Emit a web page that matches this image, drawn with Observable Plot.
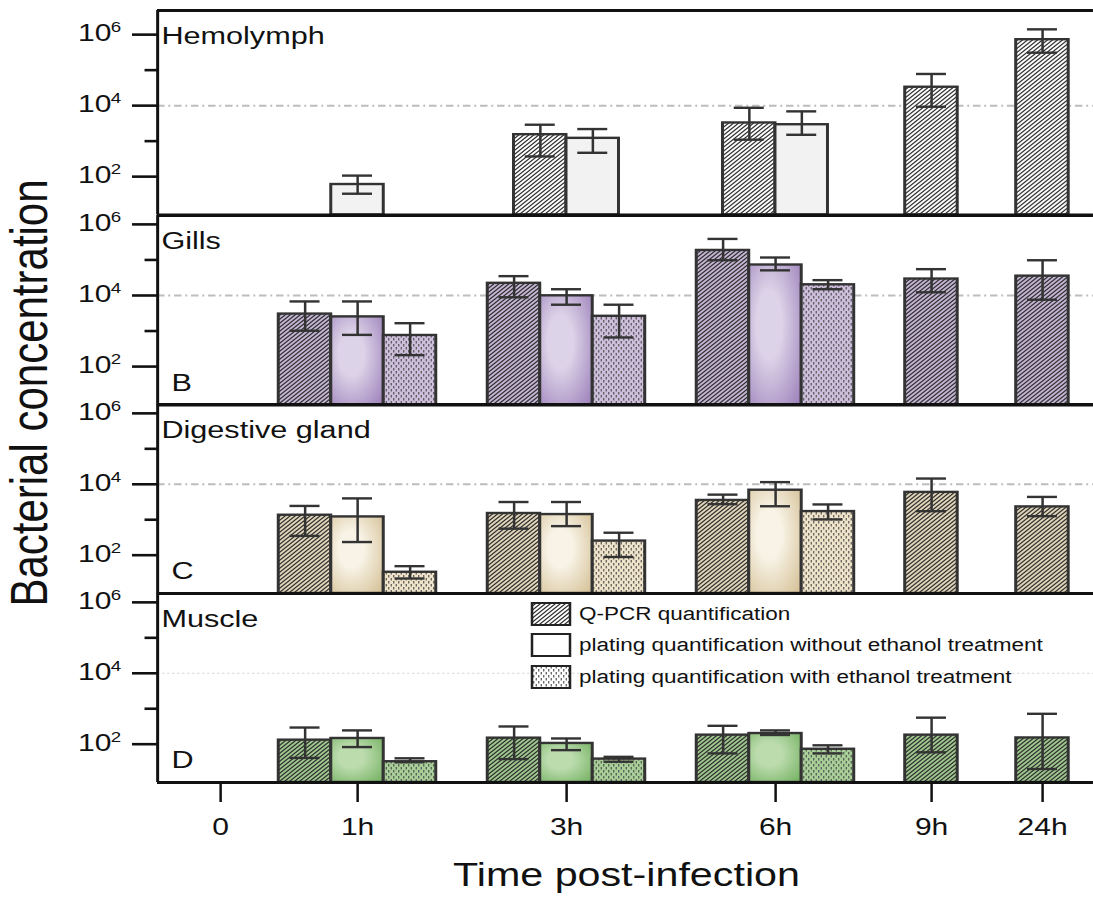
<!DOCTYPE html>
<html><head><meta charset="utf-8">
<script src="https://cdn.jsdelivr.net/npm/d3@7"></script>
<script src="https://cdn.jsdelivr.net/npm/@observablehq/plot@0.6"></script>
<style>
body{margin:0;background:#fff;}
#wrap{position:relative;width:874.4px;height:900px;transform:scaleX(1.25);transform-origin:0 0;font-family:"Liberation Sans",Arial,sans-serif;color:#111;}
#wrap svg{position:absolute;left:0;}
</style></head><body><div id="wrap"></div>
<script>
// ---------------- DATA ----------------
const times = ["0","1h","3h","6h","9h","24h"];
const hours = [0,1,3,6,9,24];
const tissues = ["Hemolymph","Gills","Digestive gland","Muscle"];
const panelLetters = ["","B","C","D"];
const seriesNames = ["Q-PCR quantification","plating quantification without ethanol treatment","plating quantification with ethanol treatment"];
const majorTicks = [1e2,1e4,1e6];
const minorTicks = [1e3,1e5];
const threshold = 1e4;

// Hemolymph
const hemoQpcr   = [null,null,1520,3250,33000,720000];
const hemoQpcrLo = [null,null,370,1100,9300,310000];
const hemoQpcrHi = [null,null,2900,8700,78000,1410000];
const hemoWo     = [null,60,1200,2900,null,null];
const hemoWoLo   = [null,33,470,1510,null,null];
const hemoWoHi   = [null,107,2190,6900,null,null];
const hemoEth    = [null,null,null,null,null,null];
const hemoEthLo  = [null,null,null,null,null,null];
const hemoEthHi  = [null,null,null,null,null,null];
// Gills
const gillQpcr   = [null,3000,22000,185000,29000,35000];
const gillQpcrLo = [null,1020,8900,98000,12300,7600];
const gillQpcrHi = [null,6800,35000,390000,55000,98000];
const gillWo     = [null,2500,9800,72000,null,null];
const gillWoLo   = [null,780,5500,51000,null,null];
const gillWoHi   = [null,6800,15000,117000,null,null];
const gillEth    = [null,750,2600,20000,null,null];
const gillEthLo  = [null,210,660,15000,null,null];
const gillEthHi  = [null,1660,5500,27000,null,null];
// Digestive gland
const digQpcr    = [null,1340,1500,3500,5900,2300];
const digQpcrLo  = [null,350,560,2750,1740,1260];
const digQpcrHi  = [null,2450,3160,5100,14500,4400];
const digWo      = [null,1200,1400,6800,null,null];
const digWoLo    = [null,235,660,2400,null,null];
const digWoHi    = [null,4000,3160,11500,null,null];
const digEth     = [null,33,250,1700,null,null];
const digEthLo   = [null,22,89,1020,null,null];
const digEthHi   = [null,49,430,2700,null,null];
// Muscle
const musQpcr    = [null,130,148,180,180,150];
const musQpcrLo  = [null,41,38,55,59,20];
const musQpcrHi  = [null,295,316,330,560,720];
const musWo      = [null,145,105,200,null,null];
const musWoLo    = [null,83,68,182,null,null];
const musWoHi    = [null,245,145,245,null,null];
const musEth     = [null,32,38,72,null,null];
const musEthLo   = [null,31,32,55,null,null];
const musEthHi   = [null,40,44,93,null,null];

// ---------------- LAYOUT ----------------
const S = 1.25;                 // horizontal stretch of the reference figure
const W = 1093 / S;
const axisLeft = 157 / S;
const tickPx = [220,357,566,775,931,1042].map(v => v / S);
const xOpts = {type:"linear", domain:[-1, ...hours, 28], range:[axisLeft, ...tickPx, W]};
const xs = Plot.scale({x: xOpts});
const barW = 52.5 / S, capHalf = 15 / S;
const font = "'Liberation Sans', Arial, sans-serif";

const panels = [
  {id:"hemo", top:10,    h:204.5, ymin:10**0.92, ymax:10**6.68, series:[[hemoQpcr,hemoQpcrLo,hemoQpcrHi],[hemoWo,hemoWoLo,hemoWoHi],[hemoEth,hemoEthLo,hemoEthHi]],
   q:"#ffffff", wl:"#f2f2f2", wd:"#f2f2f2", e:"#ffffff", ref:"dashdot"},
  {id:"gill", top:214.5, h:189.5, ymin:10**0.92, ymax:10**6.25, series:[[gillQpcr,gillQpcrLo,gillQpcrHi],[gillWo,gillWoLo,gillWoHi],[gillEth,gillEthLo,gillEthHi]],
   q:"#c4b5d4", wl:"#ddd3e8", wd:"#9a7db8", e:"#cdbedc", ref:"dashdot"},
  {id:"dig",  top:404,   h:189,   ymin:10**0.92, ymax:10**6.25, series:[[digQpcr,digQpcrLo,digQpcrHi],[digWo,digWoLo,digWoHi],[digEth,digEthLo,digEthHi]],
   q:"#e2d6bb", wl:"#f8f3e6", wd:"#d2bd91", e:"#efe4c9", ref:"dashdot"},
  {id:"mus",  top:593,   h:189,   ymin:10**0.92, ymax:10**6.25, series:[[musQpcr,musQpcrLo,musQpcrHi],[musWo,musWoLo,musWoHi],[musEth,musEthLo,musEthHi]],
   q:"#a0c78f", wl:"#bcdcae", wd:"#70ae5d", e:"#a9cf98", ref:"dotted"}
];
const keys = ["q","w","e"];

// ---------------- DEFS (patterns) ----------------
const wrap = document.getElementById("wrap");
const defsSvg = d3.create("svg").attr("width",0).attr("height",0).style("position","absolute");
const defs = defsSvg.append("defs");
function hatch(id,bg){
  const p = defs.append("pattern").attr("id",id).attr("patternUnits","userSpaceOnUse").attr("width",4).attr("height",4);
  p.append("rect").attr("width",4).attr("height",4).attr("fill",bg);
  p.append("path").attr("d","M-1,1L1,-1M0,4L4,0M3,5L5,3").attr("stroke","#2a2a2a").attr("stroke-width",1.1);
}
function dots(id,bg){
  const p = defs.append("pattern").attr("id",id).attr("patternUnits","userSpaceOnUse").attr("width",4).attr("height",6);
  p.append("rect").attr("width",4).attr("height",6).attr("fill",bg);
  p.append("path").attr("d","M1,0V2.4M3,3V5.4").attr("stroke","#4a4a4a").attr("stroke-width",0.9);
}
function grad(id,light,dark){
  const g = defs.append("radialGradient").attr("id",id).attr("cx",0.42).attr("cy",0.45).attr("r",0.8).attr("fx",0.38).attr("fy",0.42);
  g.append("stop").attr("offset",0).attr("stop-color",light);
  g.append("stop").attr("offset",0.3).attr("stop-color",light);
  g.append("stop").attr("offset",1).attr("stop-color",dark);
}
panels.forEach(p => { hatch(p.id+"-q",p.q); grad(p.id+"-w",p.wl,p.wd); dots(p.id+"-e",p.e); });
hatch("leg-q","#ffffff"); dots("leg-e","#ffffff");
wrap.appendChild(defsSvg.node());

// ---------------- PANELS ----------------
function rowsFor(p){
  const rows = [];
  hours.forEach((h,i) => {
    const present = p.series.map((s,j) => ({s, key:keys[j]})).filter(o => o.s[0][i] != null);
    const n = present.length;
    present.forEach((o,k) => {
      const c = xs.apply(h) + (k - (n-1)/2) * barW;
      rows.push({time:times[i], series:o.key, value:o.s[0][i], lo:o.s[1][i], hi:o.s[2][i],
        x1:xs.invert(c - barW/2), x2:xs.invert(c + barW/2), xc:xs.invert(c),
        cx1:xs.invert(c - capHalf), cx2:xs.invert(c + capHalf)});
    });
  });
  return rows;
}

panels.forEach((p,pi) => {
  const last = pi === panels.length - 1;
  const rows = rowsFor(p);
  const refMark = p.ref === "dashdot"
    ? Plot.ruleY([threshold], {stroke:"#bdbdbd", strokeWidth:2, strokeDasharray:"6,3,1.6,3"})
    : Plot.ruleY([threshold], {stroke:"#d6d6d6", strokeWidth:1, strokeDasharray:"2,2"});
  const marks = [
    refMark,
    ...keys.map(k => Plot.rect(rows.filter(r => r.series === k), {x1:"x1", x2:"x2", y1:() => p.ymin, y2:"value",
      fill:`url(#${p.id}-${k})`, stroke:"#333", strokeWidth:2.4})),
    Plot.ruleX(rows, {x:"xc", y1:"lo", y2:"hi", stroke:"#333", strokeWidth:2}),
    Plot.ruleY(rows, {y:"lo", x1:"cx1", x2:"cx2", stroke:"#333", strokeWidth:2.4}),
    Plot.ruleY(rows, {y:"hi", x1:"cx1", x2:"cx2", stroke:"#333", strokeWidth:2.4}),
    Plot.ruleY([p.ymin, p.ymax], {stroke:"#111", strokeWidth:3}),
    Plot.ruleX([-1], {stroke:"#111", strokeWidth:2.4}),
    Plot.axisY({ticks:majorTicks, tickSize:20, fill:"none", label:null, strokeWidth:2.6}),
    Plot.axisY({ticks:minorTicks, tickSize:10, fill:"none", label:null, strokeWidth:2.6}),
    Plot.text(majorTicks, {y:d => d, frameAnchor:"left", text:() => "10", textAnchor:"end", dx:-37, dy:-1, fontSize:24, fill:"#111"}),
    Plot.text(majorTicks, {y:d => d, frameAnchor:"left", text:d => String(Math.round(Math.log10(d))), textAnchor:"end", dx:-29.2, dy:-7, fontSize:15, fill:"#111"}),
    Plot.text([tissues[pi]], {frameAnchor:"top-left", text:d => d, textAnchor:"start", dx:3, dy:16, fontSize:24.5, fill:"#111"})
  ];
  if (panelLetters[pi]) marks.push(Plot.text([panelLetters[pi]], {frameAnchor:"bottom-left", text:d => d, textAnchor:"start", dx:11, dy:-14, fontSize:24.5, fill:"#111"}));
  if (last) marks.push(Plot.axisX({ticks:hours, tickSize:20, tickPadding:15, tickFormat:d => times[hours.indexOf(d)], fontSize:24, label:null, strokeWidth:2}));
  const chart = Plot.plot({
    width: W, height: p.h + (last ? 110 : 0),
    marginLeft: axisLeft, marginRight: 0, marginTop: 0, marginBottom: last ? 110 : 0,
    x: {...xOpts, axis: null},
    y: {type:"log", domain:[p.ymin, p.ymax], axis:null},
    style: {background:"none", overflow:"visible", fontFamily:font, color:"#111"},
    marks
  });
  chart.style.top = p.top + "px";
  wrap.appendChild(chart);
});

// ---------------- TITLES & LEGEND ----------------
const ov = d3.create("svg").attr("width", W).attr("height", 900).style("top","0px").style("overflow","visible")
  .style("font-family", font).style("pointer-events","none");
ov.append("text").attr("x", 501.2).attr("y", 886).attr("text-anchor","middle").attr("font-size",33).attr("fill","#111").text("Time post-infection");
ov.append("text").attr("transform","translate(37.5,393) rotate(-90)").attr("text-anchor","middle").attr("font-size",42).attr("fill","#111").text("Bacterial concentration");
const legFills = ["url(#leg-q)","#ffffff","url(#leg-e)"];
const legTops = [603, 634, 666];
seriesNames.forEach((name,i) => {
  ov.append("rect").attr("x", 532/S).attr("y", legTops[i]).attr("width", 38/S).attr("height", 22)
    .attr("fill", legFills[i]).attr("stroke","#222").attr("stroke-width",2);
  ov.append("text").attr("x", 579/S).attr("y", legTops[i] + 17.5).attr("font-size",18).attr("fill","#111").text(name);
});
wrap.appendChild(ov.node());
</script></body></html>
